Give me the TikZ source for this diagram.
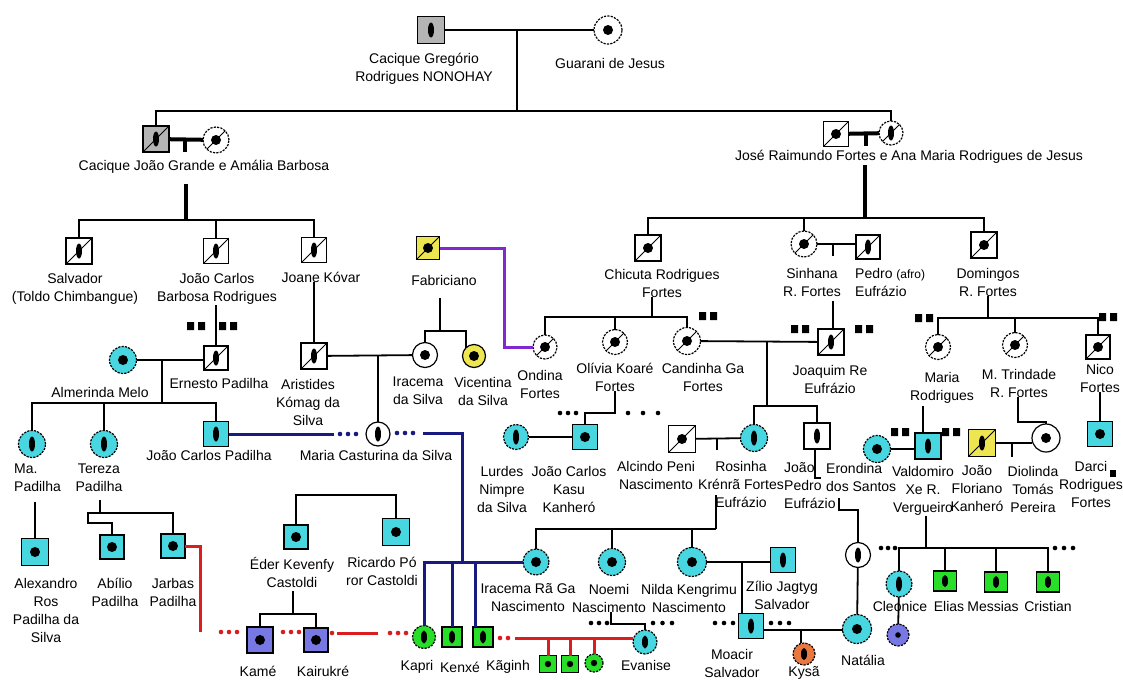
\documentclass[tikz,border=0pt]{standalone}
\usepackage{fontspec}
\setmainfont{Liberation Sans}
\usetikzlibrary{calc}
\definecolor{gry}{RGB}{180,180,180}
\definecolor{cya}{RGB}{72,214,224}
\definecolor{yel}{RGB}{238,230,80}
\definecolor{grn}{RGB}{40,222,40}
\definecolor{vio}{RGB}{120,120,228}
\definecolor{org}{RGB}{232,120,64}
\definecolor{dblue}{RGB}{25,25,130}
\definecolor{rline}{RGB}{218,30,30}
\definecolor{pline}{RGB}{130,40,210}
\newcommand\blkpair[2]{\fill[black] ({#1-9},{#2-4}) rectangle ++(7,8) ({#1+2},{#2-4}) rectangle ++(7,8);}
\newcommand\dotrow[5]{\foreach \k in {1,...,#4} {\fill[#1] ({#2+(\k-1)*#5},#3) circle (2.3pt);}}
\begin{document}
\begin{tikzpicture}[x=1pt,y=-1pt,
  lab/.style={font=\fontsize{14}{18}\selectfont,align=center,inner sep=0pt},
  ln/.style={line width=1.8pt},
  tk/.style={line width=4pt},
  md/.style={line width=2.8pt},
  bl/.style={line width=3pt,draw=dblue},
  rl/.style={line width=3pt,draw=rline},
  pl/.style={line width=3pt,draw=pline},
  sym/.style={draw=black,line width=1.2pt,inner sep=0pt,outer sep=0pt},
  sq/.style={sym,rectangle,minimum size=#1}, sq/.default=26pt,
  ci/.style={sym,circle,minimum size=#1}, ci/.default=27pt,
  dsh/.style={dash pattern=on 2.2pt off 1.2pt},
  mbar/.style={path picture={\fill[black] (path picture bounding box.center) ellipse [x radius=3pt,y radius=#1];}}, mbar/.default=7.5pt,
  mdot/.style={path picture={\fill[black] (path picture bounding box.center) circle [radius=#1];}}, mdot/.default=5pt,
  msbar/.style={path picture={\fill[black] (path picture bounding box.center) ellipse [x radius=3pt,y radius=7.5pt];
     \draw[black,solid,line width=1pt] (path picture bounding box.south west) -- (path picture bounding box.north east);}},
  msdot/.style={path picture={\fill[black] (path picture bounding box.center) circle [radius=5pt];
     \draw[black,solid,line width=1pt] (path picture bounding box.south west) -- (path picture bounding box.north east);}}
]
\fill[white] (0,0) rectangle (1123,680);
\useasboundingbox (0,0) rectangle (1123,680);

% ---------- symbols ----------
\node[sq=27pt,fill=gry,mbar] (greg) at (431,30) {};
\node[ci=28pt,dsh,mdot] (guar) at (608,30) {};
\node[sq=26pt,fill=gry,msbar] (jgra) at (156,139) {};
\node[ci=26pt,dsh,msdot] (amal) at (216,140) {};
\node[sq=25pt,msdot] (jose) at (836,134) {};
\node[ci=24pt,dsh,msbar] (ana) at (891,133) {};

\node[sq=26pt,msbar] (salv) at (79,251) {};
\node[sq=25pt,msbar] (jcbr) at (216,251) {};
\node[sq=25pt,msbar] (joan) at (314,250) {};
\node[sq=23pt,fill=yel,msdot] (fabr) at (428,248) {};
\node[sq=26pt,msdot] (chic) at (648,248) {};
\node[ci=26pt,dsh,msdot] (sinh) at (804,244) {};
\node[sq=24pt,msbar] (pedr) at (868,247) {};
\node[sq=26pt,msdot] (domi) at (984,245) {};

\node[sq=24pt,msbar] (erne) at (216,358) {};
\node[ci=27pt,fill=cya,dsh,mdot] (alme) at (123,360) {};
\node[sq=26pt,msbar] (aris) at (314,356) {};
\node[ci=25pt,mdot] (irac) at (425,355) {};
\node[ci=23pt,fill=yel,mdot] (vice) at (474,356) {};
\node[ci=24pt,dsh,msdot] (ondi) at (545,347) {};
\node[ci=25pt,dsh,msdot] (oliv) at (615,342) {};
\node[ci=27pt,dsh,msdot] (cand) at (687,341) {};
\node[sq=26pt,msbar] (joaq) at (831,342) {};
\node[ci=25pt,dsh,msdot] (mari) at (938,347) {};
\node[ci=25pt,dsh,msdot] (mtri) at (1015,345) {};
\node[sq=24pt,msdot] (nico) at (1098,347) {};

\node[ci=27pt,fill=cya,dsh,mbar] (mapa) at (32,444) {};
\node[ci=27pt,fill=cya,dsh,mbar] (tere) at (104,444) {};
\node[sq=25pt,fill=cya,mbar] (jcpa) at (216,434) {};
\node[ci=24pt,mbar] (mcas) at (378,434) {};
\node[ci=25pt,fill=cya,dsh,mbar] (lurd) at (516,437) {};
\node[sq=25pt,fill=cya,mdot] (jcka) at (585,437) {};
\node[sq=27pt,msdot] (alci) at (682,439) {};
\node[ci=27pt,fill=cya,dsh,mbar] (rosi) at (754,438) {};
\node[sq=26pt,mbar] (jped) at (817,436) {};
\node[ci=27pt,fill=cya,dsh,mdot] (eron) at (877,449) {};
\node[sq=26pt,fill=cya,mbar] (vald) at (928,446) {};
\node[sq=27pt,fill=yel,msbar] (jflo) at (982,443) {};
\node[ci=28pt,mdot] (diol) at (1046,438) {};
\node[sq=25pt,fill=cya,mdot] (darc) at (1100,434) {};

\node[sq=27pt,fill=cya,mdot] (alex) at (35,552) {};
\node[sq=24pt,fill=cya,mdot] (abil) at (112,547) {};
\node[sq=24pt,fill=cya,mdot] (jarb) at (173,546) {};
\node[sq=24pt,fill=cya,mdot] (eder) at (296,537) {};
\node[sq=27pt,fill=cya,mdot] (rica) at (396,532) {};
\node[ci=26pt,fill=cya,dsh,mdot] (iraG) at (536,562) {};
\node[ci=27pt,fill=cya,dsh,mdot] (noem) at (612,562) {};
\node[ci=29pt,fill=cya,dsh,mdot] (nild) at (692,562) {};
\node[sq=25pt,fill=cya,mbar] (zili) at (783,560) {};
\node[ci=25pt,mbar] (wchi) at (858,555) {};
\node[ci=26pt,fill=cya,dsh,mbar] (cleo) at (899,584) {};
\node[sq,minimum width=23pt,minimum height=20pt,fill=grn,mbar=6pt] (elia) at (945,581) {};
\node[sq,minimum width=23pt,minimum height=20pt,fill=grn,mbar=6pt] (mess) at (996,582) {};
\node[sq,minimum width=23pt,minimum height=20pt,fill=grn,mbar=6pt] (cris) at (1048,582) {};

\node[sq=26pt,fill=vio,mdot] (kame) at (260,640) {};
\node[sq=24pt,fill=vio,mdot] (kair) at (316,640) {};
\node[ci=23pt,fill=grn,dsh,mbar=6.5pt] (kapr) at (424,637) {};
\node[sq=20pt,fill=grn,mbar=6.5pt] (kenx) at (452,637) {};
\node[sq=20pt,fill=grn,mbar=6.5pt] (kagi) at (483,637) {};
\node[sq=17pt,fill=grn,mdot=3.2pt] (gA) at (548,664) {};
\node[sq=17pt,fill=grn,mdot=3.2pt] (gB) at (570,664) {};
\node[ci=18pt,fill=grn,dsh,mdot=3.2pt] (gC) at (594,663) {};
\node[ci=24pt,fill=cya,dsh,mbar=6.5pt] (evan) at (645,642) {};
\node[sq=25pt,fill=cya,mbar] (moac) at (751,626) {};
\node[ci=22pt,fill=org,dsh,mbar=6pt] (kysa) at (804,654) {};
\node[ci=29pt,fill=cya,dsh,mdot] (nata) at (857,629) {};
\node[ci=22pt,fill=vio,dsh,mdot=2.8pt] (cchi) at (898,635) {};

% ---------- labels ----------
\node[lab] (lgreg) at (424,69) {Cacique Gregório\\Rodrigues NONOHAY};
\node[lab] (lguar) at (610,63) {Guarani de Jesus};
\node[lab] (ljgra) at (204,167) {Cacique João Grande e Amália Barbosa};
\node[lab] (ljose) at (909,157) {José Raimundo Fortes e Ana Maria Rodrigues de Jesus};
\node[lab] (lsalv) at (75,289) {Salvador\\(Toldo Chimbangue)};
\node[lab] (ljcbr) at (217,289) {João Carlos\\Barbosa Rodrigues};
\node[lab] (ljoan) at (321,277) {Joane Kóvar};
\node[lab] (lerne) at (219,383) {Ernesto Padilha};
\node[lab] (lalme) at (100,392) {Almerinda Melo};
\node[lab] (laris) at (308,402) {Aristides\\Kómag da\\Silva};
\node[lab] (lirac) at (418,391) {Iracema\\da Silva};
\node[lab] (lvice) at (483,391) {Vicentina\\da Silva};
\node[lab] (lfabr) at (444,280) {Fabriciano};
\node[lab] (lmcas) at (376,455) {Maria Casturina da Silva};
\node[lab] (ljcpa) at (209,455) {João Carlos Padilha};
\node[lab,align=left,anchor=west] (lmapa) at (14,478) {Ma.\\Padilha};
\node[lab] (ltere) at (99,478) {Tereza\\Padilha};
\node[lab] (lalex) at (46,610) {Alexandro\\Ros\\Padilha da\\Silva};
\node[lab] (labil) at (115,592) {Abílio\\Padilha};
\node[lab] (ljarb) at (173,592) {Jarbas\\Padilha};
\node[lab] (leder) at (292,572) {Éder Kevenfy\\Castoldi};
\node[lab] (lrica) at (382,571) {Ricardo Pó\\ror Castoldi};
\node[lab] (lkame) at (258,671) {Kamé};
\node[lab] (lkair) at (323,671) {Kairukré};
\node[lab] (lkapr) at (417,667) {Kapri};
\node[lab] (lkenx) at (460,667) {Kenxé};
\node[lab] (lkagi) at (508,667) {Kãginh};
\node[lab] (lchic) at (662,283) {Chicuta Rodrigues\\Fortes};
\node[lab] (londi) at (540,384) {Ondina\\Fortes};
\node[lab] (loliv) at (615,377) {Olívia Koaré\\Fortes};
\node[lab] (lcand) at (703,377) {Candinha Ga\\Fortes};
\node[lab] (llurd) at (502,489) {Lurdes\\Nimpre\\da Silva};
\node[lab] (ljcka) at (569,489) {João Carlos\\Kasu\\Kanheró};
\node[lab] (lalci) at (656,475) {Alcindo Peni\\Nascimento};
\node[lab] (lrosi) at (741,484) {Rosinha\\Krénrã Fortes\\Eufrázio};
\node[lab] (ljoaq) at (830,379) {Joaquim Re\\Eufrázio};
\node[lab,align=left,anchor=west] (ljped) at (784,486) {João\\Pedro\\Eufrázio};
\node[lab,align=left,anchor=west] (leron) at (826,477) {Erondina\\dos Santos};
\node[lab] (lvald) at (923,491) {Valdomiro\\Xe R.\\Vergueiro};
\node[lab] (ljflo) at (977,489) {João\\Floriano\\Kanheró};
\node[lab] (ldiol) at (1033,489) {Diolinda\\Tomás\\Pereira};
\node[lab] (ldarc) at (1091,484) {Darci\\Rodrigues\\Fortes};
\node[lab] (lsinh) at (812,282) {Sinhana\\R. Fortes};
\node[lab,align=left,anchor=west] (lpedr) at (855,282) {Pedro {\fontsize{12}{18}\selectfont(afro)}\\Eufrázio};
\node[lab] (ldomi) at (988,282) {Domingos\\R. Fortes};
\node[lab] (lmari) at (942,388) {Maria\\Rodrigues};
\node[lab] (lmtri) at (1019,383) {M. Trindade\\R. Fortes};
\node[lab] (lnico) at (1100,378) {Nico\\Fortes};
\node[lab] (liraG) at (528,598) {Iracema Rã Ga\\Nascimento};
\node[lab] (lnoem) at (609,598) {Noemi\\Nascimento};
\node[lab] (lnild) at (689,598) {Nilda Kengrimu\\Nascimento};
\node[lab] (lzili) at (782,595) {Zílio Jagtyg\\Salvador};
\node[lab] (lmoac) at (732,663) {Moacir\\Salvador};
\node[lab] (levan) at (646,665) {Evanise};
\node[lab] (lkysa) at (804,673) {Kysã};
\node[lab] (lnata) at (863,660) {Natália};
\node[lab] (lcleo) at (900,606) {Cleonice};
\node[lab] (lelia) at (949,606) {Elias};
\node[lab] (lmess) at (993,606) {Messias};
\node[lab] (lcris) at (1048,606) {Cristian};

% ---------- connectors ----------
\coordinate (cm1) at (517,30);
\coordinate (ctop) at (517,111);
\draw[md] (greg) -- (guar);
\draw[md] (cm1) -- (ctop);
\draw[md] (jgra.north) |- (ctop) -| (ana.north);

\draw[tk] (jgra) -- (amal);
\coordinate (cJG) at (185,140);
\draw[tk] (cJG) -- ++(0,12);
\coordinate (cA0) at (186,184);
\coordinate (cA) at (186,220);
\draw[tk] (cA0) -- (cA);
\draw[ln] (salv.north) |- (cA) -| (joan.north);
\draw[ln] (jcbr.north) -- (jcbr.north |- cA);
\draw[ln] (erne.north) -- (erne.north |- ljcbr.south);
\blkpair{196}{326}
\blkpair{228}{326}

\draw[ln] (alme) -- (alme -| erne.west);
\coordinate (cAE) at (162,360);
\coordinate (cB) at (162,403);
\draw[ln] (cAE) -- (cB);
\draw[ln] (mapa.north) |- (cB) -| (jcpa.north);
\draw[ln] (tere.north) -- (tere.north |- cB);

\draw[ln] (aris.north) -- (aris.north |- ljoan.south);
\draw[ln] (aris) -- (irac);
\coordinate (cAI) at (378,355);
\draw[ln] (cAI) -- (mcas.north);
\coordinate (cF0) at (440,298);
\coordinate (cF) at (440,331);
\draw[ln] (cF0) -- (cF);
\draw[ln] (irac.north) |- (cF) -| (vice.north west);

\coordinate (cP) at (504,347);
\draw[pl] (fabr.east) -| (cP) -- (ondi.west);

% blue
\draw[bl] (jcpa.east) -- ++(105,0);
\dotrow{dblue}{340}{434}{3}{8}
\dotrow{dblue}{397}{433}{3}{8}
\coordinate (cB1) at (423,433);
\coordinate (cB2) at (462,561);
\draw[bl] (cB1) -| (cB2);
\draw[bl] (kapr.north) |- (iraG.west);
\draw[bl] (kenx.north) -- (kenx.north |- iraG.west);
\coordinate (kagiT) at ($(kagi.north west)+(2,0)$);
\draw[bl] (kagiT) -- (kagiT |- iraG.west);

% red
\coordinate (cR1) at (200,632);
\draw[rl] (jarb.east) -| (cR1);
\dotrow{rline}{221}{632}{3}{8}
\dotrow{rline}{283}{632}{3}{8}
\fill[rline] (332,633) circle (2.3pt);
\coordinate (cR2) at (337,633);
\draw[rl] (cR2) -- ++(41,0);
\dotrow{rline}{390}{633}{3}{8}
\dotrow{rline}{500}{638}{2}{8}
\coordinate (cR3) at (515,638);
\draw[rl] (cR3) -- (evan.west |- cR3);
\draw[rl] (gA.north) -- (gA.north |- cR3);
\draw[rl] (gB.north) -- (gB.north |- cR3);
\draw[rl] (gC.north) -- (gC.north |- cR3);

% Castoldi
\coordinate (cE) at (348,495);
\draw[ln] (eder.north) |- (cE) -| (rica.north);
\coordinate (cE1) at (293,591);
\coordinate (cE2) at (293,614);
\draw[ln] (cE1) -- (cE2);
\draw[ln] (kame.north) |- (cE2) -| (kair.north);

% Padilha
\coordinate (cM0) at (35,502);
\draw[ln] (cM0) -- (alex.north);
\coordinate (cT0) at (100,500);
\coordinate (cT1) at (100,513);
\coordinate (cT2) at (88,523);
\draw[ln] (cT0) -- (cT1);
\draw[ln] (abil.north) |- (cT2) -- (88,513) -| (jarb.north);

% Olivia
\coordinate (cO) at (585,413);
\draw[ln] (loliv.south) |- (cO) -- (jcka.north);
\dotrow{black}{560}{413}{3}{8}
\dotrow{black}{628}{413}{3}{15}
\draw[ln] (lurd) -- (jcka);

% Chicuta
\coordinate (cC) at (652,317);
\draw[ln] (lchic.south -| cC) -- (cC);
\draw[ln] (ondi.north) |- (cC) -| (cand.north);
\draw[ln] (oliv.north) -- (oliv.north |- cC);
\blkpair{708}{316}

% Candinha - Joaquim
\draw[ln] (cand) -- (joaq);
\coordinate (cCJ) at (767,342);
\coordinate (cCJ2) at (767,406);
\draw[ln] (cCJ) -- (cCJ2);
\draw[ln] (rosi.north) |- (cCJ2) -| (jped.north);

% Alcindo - Rosinha
\draw[ln] (alci) -- (rosi);
\coordinate (cAR) at (717,438);
\draw[ln] (cAR) -- ++(0,12);
\coordinate (cAR2) at (716,495);
\coordinate (cK) at (716,529);
\draw[ln] (cAR2) -- (cK);
\draw[ln] (iraG.north) |- (cK);
\draw[ln] (noem.north) -- (noem.north |- cK);
\draw[ln] (nild.north) -- (nild.north |- cK);

% Noemi - Evanise
\coordinate (cN) at (611,624);
\draw[ln] (lnoem.south -| cN) -- (cN) -| (evan.north);
\dotrow{black}{591}{623}{3}{8}
\dotrow{black}{653}{623}{3}{9.5}

% Nilda - Zilio
\draw[ln] (nild) -- (nild -| zili.west);
\coordinate (cNZ) at (742,562);
\draw[ln] (cNZ) -- (moac.north -| cNZ);

% Moacir - Natalia
\coordinate (cMN) at (764,630);
\draw[ln] (cMN) -- (nata.west |- cMN);
\coordinate (cKy) at (801,630);
\draw[ln] (cKy) -- (kysa.north -| cKy);
\dotrow{black}{715}{623}{3}{9}
\dotrow{black}{771}{623}{3}{9}

% Joao Pedro
\coordinate (cJP1) at (815,478);
\coordinate (cJP2) at (839,498);
\coordinate (cJP3) at (839,510);
\draw[ln] (jped.south -| cJP1) -- (cJP1) -- ++(6,0) (cJP2) -- (cJP3) -| (wchi.north);
\draw[ln] (wchi) -- (nata);

% Sinhana
\draw[ln] (sinh) -- (sinh -| pedr.west);
\coordinate (cSP) at (833,244);
\draw[ln] (cSP) -- ++(0,12);
\coordinate (cS2) at (833,301);
\draw[ln] (cS2) -- (joaq.north -| cS2);
\blkpair{800}{329}
\blkpair{864}{329}

% Jose - Ana
\draw[tk] (jose) -- (ana);
\coordinate (cJA) at (866,134);
\draw[tk] (cJA) -- ++(0,12);
\coordinate (cJ1) at (865,165);
\coordinate (cJ2) at (865,218);
\draw[tk] (cJ1) -- (cJ2);
\draw[ln] (chic.north) |- (cJ2) -| (domi.north);
\draw[ln] (sinh.north) -- (sinh.north |- cJ2);

% Domingos
\coordinate (cD) at (988,318);
\draw[ln] (ldomi.south -| cD) -- (cD);
\draw[ln] (mari.north) |- (cD) -| (nico.north);
\draw[ln] (mtri.north) -- (mtri.north |- cD);
\blkpair{924}{318}
\blkpair{1108}{317}

\coordinate (cMV) at (923,406);
\draw[ln] (cMV) -- (vald.north -| cMV);
\coordinate (cMT) at (1018,422);
\draw[ln] (lmtri.south -| cMT) -- (cMT) -| (diol.north);
\draw[ln] (lnico.south -| darc.north) -- (darc.north);

\draw[ln] (eron) -- (eron -| vald.west);
\blkpair{900}{432}
\blkpair{951}{432}
\draw[ln] (jflo.east) -- (diol.west |- jflo.east);
\coordinate (cFD) at (1012,443);
\draw[ln] (cFD) -- ++(0,14);
\fill[black] (1110,470) rectangle ++(6,7);

% Valdomiro children
\coordinate (cV) at (926,548);
\draw[ln] (lvald.south -| cV) -- (cV);
\draw[ln] (cleo.north) |- (cV) -| (cris.north);
\draw[ln] (elia.north) -- (elia.north |- cV);
\draw[ln] (mess.north) -- (mess.north |- cV);
\dotrow{black}{881}{548}{3}{7}
\dotrow{black}{1055}{548}{3}{9}
\draw[ln] (cleo) -- (cchi);
\end{tikzpicture}
\end{document}
